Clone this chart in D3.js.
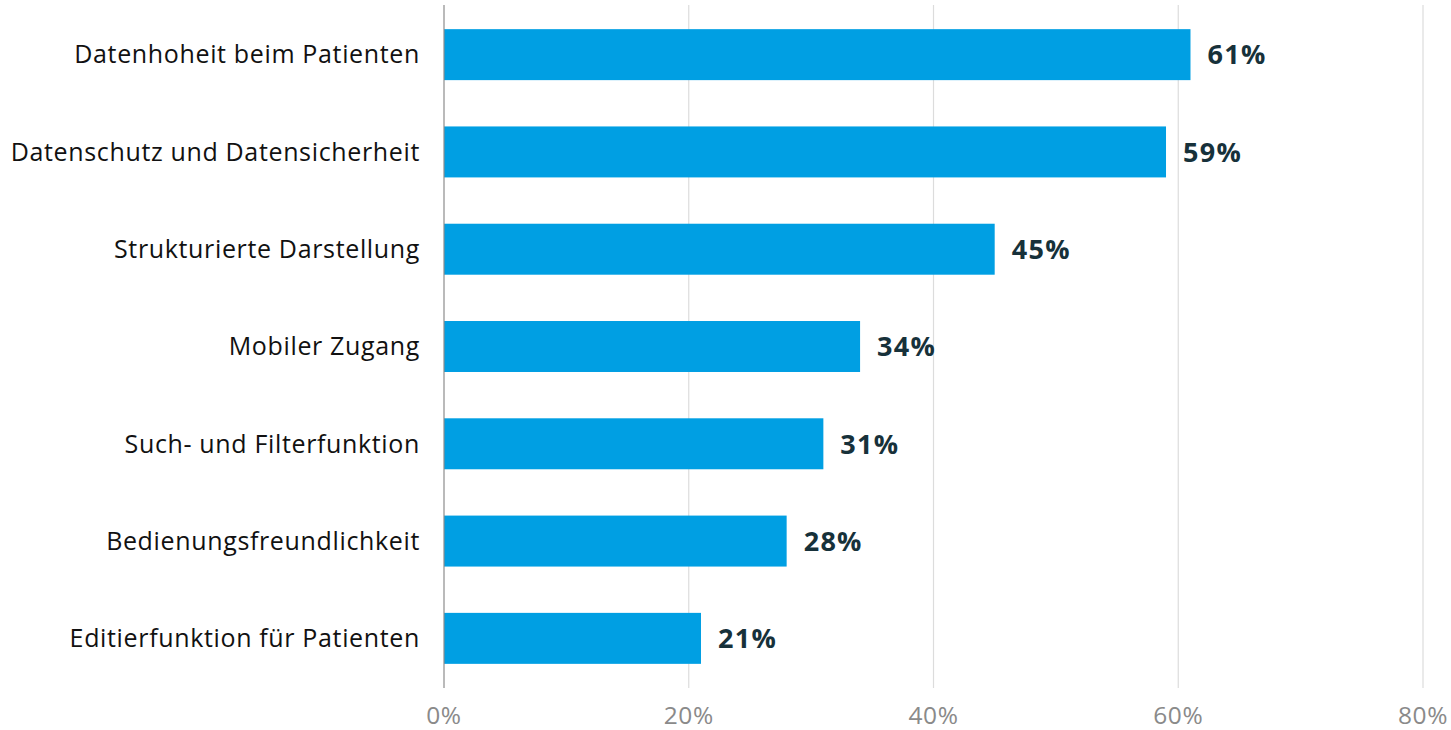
<!DOCTYPE html>
<html>
<head>
<meta charset="utf-8">
<script src="https://cdn.jsdelivr.net/npm/d3@7"></script>
<style>
  html, body { margin: 0; padding: 0; background: #fff; }
  svg { display: block; }
</style>
</head>
<body>
<svg id="chart" width="1451" height="730"></svg>
<script>
// Feature ratings (share of respondents)
const categories = [
  "Datenhoheit beim Patienten",
  "Datenschutz und Datensicherheit",
  "Strukturierte Darstellung",
  "Mobiler Zugang",
  "Such- und Filterfunktion",
  "Bedienungsfreundlichkeit",
  "Editierfunktion für Patienten"
];
const values = [61, 59, 45, 34, 31, 28, 21];
const tickValues = [0, 20, 40, 60, 80];
const tickLabels = ["0%", "20%", "40%", "60%", "80%"];

const fontFamily = "'Open Sans', 'Noto Sans', sans-serif";
const svg = d3.select("#chart");

const x = d3.scaleLinear().domain([0, 80]).range([444, 1423]);
const y = d3.scaleBand()
  .domain(categories)
  .range([6, 687])
  .paddingInner(0.476)
  .paddingOuter(0.238);

// vertical gridlines
svg.append("g")
  .selectAll("line")
  .data(tickValues.slice(1))
  .join("line")
  .attr("x1", d => x(d)).attr("x2", d => x(d))
  .attr("y1", 5).attr("y2", 688)
  .attr("stroke", "#dcdcdc")
  .attr("stroke-width", 1.2);

// bars
svg.append("g")
  .selectAll("rect")
  .data(values)
  .join("rect")
  .attr("x", x(0))
  .attr("y", (d, i) => y(categories[i]))
  .attr("width", d => x(d) - x(0))
  .attr("height", y.bandwidth())
  .attr("fill", "#009fe3");

// baseline axis
svg.append("line")
  .attr("x1", x(0)).attr("x2", x(0))
  .attr("y1", 5).attr("y2", 688)
  .attr("stroke", "#8c8c8c")
  .attr("stroke-width", 1.2);

// category labels
svg.append("g")
  .selectAll("text")
  .data(categories)
  .join("text")
  .attr("x", 420)
  .attr("y", d => y(d) + y.bandwidth() / 2)
  .attr("dy", "0.35em")
  .attr("text-anchor", "end")
  .attr("font-family", fontFamily)
  .attr("font-size", 25)
  .attr("letter-spacing", 0.65)
  .attr("fill", "#111")
  .text(d => d);

// value labels
svg.append("g")
  .selectAll("text")
  .data(values)
  .join("text")
  .attr("x", d => x(d) + 17)
  .attr("y", (d, i) => y(categories[i]) + y.bandwidth() / 2)
  .attr("dy", "0.36em")
  .attr("font-family", fontFamily)
  .attr("font-weight", 700)
  .attr("font-size", 27)
  .attr("letter-spacing", 1.3)
  .attr("fill", "#17313a")
  .text(d => d + "%");

// x tick labels
svg.append("g")
  .selectAll("text")
  .data(tickValues)
  .join("text")
  .attr("x", d => x(d))
  .attr("y", 724)
  .attr("text-anchor", "middle")
  .attr("font-family", fontFamily)
  .attr("font-size", 24.5)
  .attr("letter-spacing", 0.5)
  .attr("fill", "#8a8a8a")
  .text((d, i) => tickLabels[i]);
</script>
</body>
</html>
